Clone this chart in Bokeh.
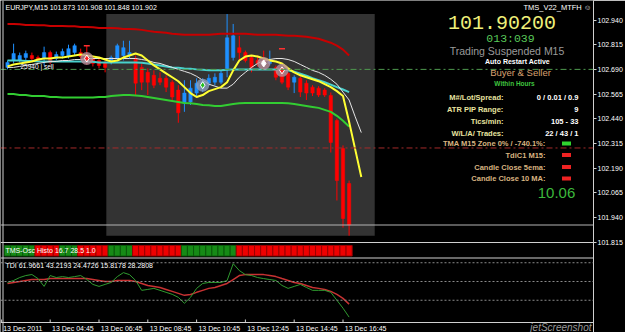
from bokeh.plotting import figure
from bokeh.models import Range1d, FixedTicker, Span, Label, PrintfTickFormatter
from bokeh.embed import file_html
from bokeh.resources import INLINE

# ---------------- data ----------------
header_text = "EURJPY,M15  101.873 101.908 101.848 101.902"

opens = [102.700, 102.735, 102.735, 102.750, 102.760, 102.750, 102.745, 102.775, 102.745, 102.760,
         102.755, 102.775, 102.775, 102.760, 102.745, 102.735, 102.725, 102.725, 102.745, 102.760,
         102.760, 102.745, 102.700, 102.675, 102.660, 102.645, 102.645, 102.625, 102.585, 102.520,
         102.525, 102.570, 102.595, 102.620, 102.625, 102.625, 102.695, 102.750, 102.800, 102.775,
         102.750, 102.735, 102.735, 102.720, 102.700, 102.675, 102.670, 102.625, 102.645, 102.620,
         102.600, 102.595, 102.585, 102.558, 102.431, 102.289, 102.112]
highs = [102.735, 102.820, 102.775, 102.785, 102.775, 102.760, 102.805, 102.785, 102.780, 102.795,
         102.815, 102.820, 102.795, 102.810, 102.755, 102.745, 102.735, 102.760, 102.820, 102.835,
         102.835, 102.760, 102.725, 102.695, 102.685, 102.675, 102.660, 102.635, 102.610, 102.635,
         102.635, 102.645, 102.645, 102.665, 102.670, 102.685, 102.970, 102.920, 102.860, 102.785,
         102.760, 102.760, 102.785, 102.785, 102.710, 102.685, 102.675, 102.660, 102.655, 102.635,
         102.610, 102.605, 102.595, 102.573, 102.441, 102.305, 102.127]
lows = [102.690, 102.720, 102.725, 102.735, 102.735, 102.725, 102.710, 102.715, 102.735, 102.745,
        102.745, 102.760, 102.745, 102.715, 102.705, 102.695, 102.675, 102.715, 102.735, 102.735,
        102.745, 102.560, 102.585, 102.560, 102.595, 102.610, 102.575, 102.535, 102.420, 102.475,
        102.510, 102.555, 102.575, 102.605, 102.610, 102.615, 102.650, 102.735, 102.735, 102.725,
        102.675, 102.705, 102.720, 102.710, 102.635, 102.615, 102.585, 102.570, 102.550, 102.535,
        102.555, 102.550, 102.550, 102.269, 102.026, 101.889, 101.848]
closes = [102.725, 102.770, 102.760, 102.770, 102.745, 102.735, 102.775, 102.725, 102.765, 102.780,
          102.795, 102.810, 102.755, 102.725, 102.720, 102.710, 102.700, 102.750, 102.810, 102.800,
          102.775, 102.620, 102.625, 102.625, 102.610, 102.625, 102.600, 102.550, 102.470, 102.570,
          102.595, 102.620, 102.625, 102.645, 102.650, 102.670, 102.850, 102.860, 102.775, 102.735,
          102.700, 102.720, 102.725, 102.735, 102.650, 102.625, 102.600, 102.650, 102.575, 102.570,
          102.570, 102.560, 102.560, 102.320, 102.127, 101.935, 101.902]

upper_band = [102.920, 102.920, 102.918, 102.915, 102.915, 102.913, 102.913, 102.910, 102.910, 102.910,
              102.908, 102.908, 102.905, 102.905, 102.903, 102.900, 102.900, 102.900, 102.898, 102.895,
              102.895, 102.893, 102.890, 102.885, 102.880, 102.878, 102.875, 102.870, 102.868, 102.865,
              102.865, 102.865, 102.865, 102.865, 102.868, 102.870, 102.870, 102.870, 102.870, 102.870,
              102.868, 102.865, 102.865, 102.865, 102.865, 102.863, 102.860, 102.860, 102.858, 102.855,
              102.850, 102.845, 102.835, 102.825, 102.810, 102.790, 102.760]
lower_band = [102.565, 102.565, 102.560, 102.560, 102.555, 102.555, 102.555, 102.550, 102.550, 102.548,
              102.548, 102.548, 102.548, 102.548, 102.548, 102.550, 102.550, 102.555, 102.558, 102.560,
              102.560, 102.558, 102.555, 102.550, 102.545, 102.540, 102.535, 102.530, 102.525, 102.520,
              102.518, 102.515, 102.510, 102.508, 102.505, 102.505, 102.510, 102.515, 102.518, 102.520,
              102.520, 102.520, 102.520, 102.520, 102.520, 102.520, 102.518, 102.515, 102.510, 102.505,
              102.500, 102.495, 102.485, 102.475, 102.455, 102.430, 102.400]
mid_line = [102.735, 102.735, 102.735, 102.733, 102.733, 102.730, 102.730, 102.730, 102.730, 102.730,
            102.730, 102.730, 102.730, 102.728, 102.728, 102.725, 102.725, 102.725, 102.725, 102.725,
            102.725, 102.725, 102.723, 102.720, 102.715, 102.710, 102.705, 102.700, 102.698, 102.695,
            102.693, 102.690, 102.688, 102.685, 102.685, 102.685, 102.688, 102.690, 102.690, 102.690,
            102.690, 102.690, 102.690, 102.690, 102.690, 102.690, 102.685, 102.678, 102.668, 102.658,
            102.645, 102.635, 102.625, 102.613, 102.600, 102.588, 102.575]
fast_ma = [102.705, 102.715, 102.720, 102.725, 102.730, 102.740, 102.745, 102.745, 102.750, 102.750,
           102.755, 102.760, 102.765, 102.760, 102.755, 102.750, 102.740, 102.730, 102.735, 102.750,
           102.760, 102.770, 102.760, 102.735, 102.710, 102.690, 102.670, 102.650, 102.630, 102.600,
           102.570, 102.550, 102.560, 102.580, 102.590, 102.600, 102.625, 102.685, 102.735, 102.755,
           102.760, 102.755, 102.745, 102.735, 102.730, 102.720, 102.695, 102.675, 102.660, 102.650,
           102.640, 102.630, 102.615, 102.600, 102.580, 102.555, 102.425, 102.285, 102.145]
slow_ma = [102.700, 102.700, 102.705, 102.710, 102.715, 102.720, 102.725, 102.730, 102.730, 102.735,
           102.735, 102.740, 102.740, 102.745, 102.745, 102.745, 102.745, 102.745, 102.745, 102.745,
           102.745, 102.745, 102.740, 102.735, 102.725, 102.720, 102.710, 102.700, 102.690, 102.680,
           102.670, 102.655, 102.635, 102.615, 102.605, 102.595, 102.595, 102.615, 102.650, 102.675,
           102.700, 102.720, 102.735, 102.740, 102.745, 102.745, 102.740, 102.730, 102.715, 102.700,
           102.685, 102.675, 102.660, 102.640, 102.615, 102.575, 102.535, 102.450, 102.370]

trade_bars = [13, 32, 42, 45]
trade_prices = [102.745, 102.610, 102.720, 102.685]
trade_halo = ["#b98f9a", "#8ea0bd", "#b98f9a", "#b98f9a"]
trade_icon = ["#ff2020", "#22c022", "#ffffff", "#ff2020"]
dash_bars = [13, 45]
dash_prices = [102.810, 102.795]

# 1 = rising (green), 0 = falling (red)
osc_state = [1, 1, 1, 1, 1, 0, 0, 0, 0, 1, 1, 1, 0, 0, 0, 0, 0, 1, 1, 1,
             1, 0, 0, 0, 0, 0, 0, 0, 0, 1, 1, 1, 1, 1, 1, 1, 1, 1, 0, 0,
             0, 0, 0, 0, 0, 0, 0, 0, 0, 0, 0, 0, 0, 0, 0, 0, 0]

tdi_price = [49.1, 51.0, 53.8, 55.7, 56.7, 52.8, 45.3, 55.7, 53.8, 54.7,
             53.8, 54.7, 55.7, 51.9, 47.2, 45.3, 47.2, 49.1, 54.7, 58.5,
             56.6, 51.0, 41.5, 42.4, 43.4, 41.5, 39.6, 37.7, 34.8, 29.1,
             34.8, 43.4, 48.1, 49.1, 49.1, 49.1, 51.0, 67.1, 60.5, 56.6,
             55.7, 53.8, 52.8, 51.9, 51.0, 46.2, 43.4, 45.3, 47.2, 44.3,
             41.5, 41.5, 41.5, 39.6, 32.0, 24.4, 15.818]
tdi_signal = [48.1, 49.1, 50.0, 51.0, 51.9, 51.9, 51.9, 52.8, 52.8, 52.8,
              52.8, 52.8, 52.8, 52.8, 51.9, 51.0, 50.0, 50.0, 51.0, 51.0,
              51.0, 50.0, 48.1, 46.2, 45.3, 44.3, 42.4, 40.5, 38.6, 36.7,
              37.6, 39.6, 41.5, 43.4, 44.3, 46.2, 48.1, 51.9, 55.7, 56.6,
              56.6, 56.6, 56.6, 55.7, 54.7, 52.8, 51.0, 49.1, 48.1, 46.2,
              44.3, 43.4, 42.4, 40.5, 37.6, 33.8, 28.281]
tdi_levels = [68, 50, 32]

time_ticks = [-1, 7, 15, 23, 31, 39, 47, 55]
time_labels = ["13 Dec 2011", "13 Dec 04:45", "13 Dec 06:45", "13 Dec 08:45",
               "13 Dec 10:45", "13 Dec 12:45", "13 Dec 14:45", "13 Dec 16:45"]
price_ticks = [102.940, 102.815, 102.690, 102.565, 102.440, 102.315, 102.190, 102.065, 101.940, 101.815]

session_open_bar = 16
session_close_bar = 60
level_green = 102.690
level_red = 102.292
bid = 101.902

info_labels = ["M#/Lot/Spread:", "ATR PIP Range:", "Tics/min:", "W/L/A/ Trades:"]
info_values = ["0 / 0.01 / 0.9", "9", "105 - 33", "22 / 43 / 1"]
signal_labels = ["TMA M15 Zone 0% / -740.1%:", "TdiC1 M15:", "Candle Close 5ema:", "Candle Close 10 MA:"]
signal_colors = ["#2fd42f", "#ee2222", "#ee2222", "#ee2222"]

# ---------------- layout helpers (pixel -> data) ----------------
FRAME_W, FRAME_H = 593, 332
def px_x(px):
    return (px - 7.0) / 6.1
def px_y(py):
    return 102.940 - (py - 19.5) / 197.5
def px_osc(py):
    return (255.5 - py) / 10.5
def px_tdi(py):
    return 50 + (281.0 - py) / 1.042

FONT = "Liberation Sans"

p = figure(width=625, height=332, output_backend="svg", toolbar_location=None,
           x_range=Range1d(px_x(0), px_x(FRAME_W)),
           y_range=Range1d(px_y(FRAME_H), px_y(0)),
           y_axis_location="right", x_axis_location=None,
           background_fill_color="black", border_fill_color="black",
           outline_line_color=None,
           min_border_left=0, min_border_top=0, min_border_right=32, min_border_bottom=0)
p.extra_y_ranges = {"osc": Range1d(px_osc(FRAME_H), px_osc(0)),
                    "tdi": Range1d(px_tdi(FRAME_H), px_tdi(0))}
p.xgrid.grid_line_color = None
p.ygrid.grid_line_color = None

# session box
box_top = max(highs[session_open_bar:])
box_bottom = min(lows[session_open_bar:])
p.quad(left=[session_open_bar + 0.2], right=[session_close_bar + 0.2],
       bottom=[box_bottom], top=[box_top], fill_color="#333333", line_color=None)

# candles
xs = list(range(len(opens)))
ccol = ["#1e90ff" if c >= o else "#ff0000" for o, c in zip(opens, closes)]
p.segment(x0=xs, y0=lows, x1=xs, y1=highs, line_color=ccol, line_width=1)
p.vbar(x=xs, width=0.55,
       bottom=[min(o, c) for o, c in zip(opens, closes)],
       top=[max(o, c) for o, c in zip(opens, closes)],
       fill_color=ccol, line_color=ccol, line_width=0.5)

# bands and averages
p.line(xs, upper_band, line_color="#c80000", line_width=2)
p.line(xs, lower_band, line_color="#32cd32", line_width=2)
p.line(xs, mid_line, line_color="#48d1cc", line_width=2)
ma_x = list(range(len(fast_ma)))
p.line(ma_x, slow_ma, line_color="#e6e6e6", line_width=1)
p.line(ma_x, fast_ma, line_color="#ffff33", line_width=2)

# trade marks
p.scatter(trade_bars, trade_prices, marker="circle", size=13, fill_color=trade_halo,
          fill_alpha=0.8, line_color=None)
p.scatter(trade_bars, trade_prices, marker="diamond", size=7, fill_color=trade_icon,
          line_color="white", line_width=1)
p.scatter(dash_bars, dash_prices, marker="dash", size=6, line_color="#ff3030", line_width=1.5)

# oscillator histogram (full-height state bars)
hcol = ["#168a16" if v else "#ee0000" for v in osc_state]
hline = ["#0b5a0b" if v else "#9a0000" for v in osc_state]
p.vbar(x=xs, width=1, bottom=0, top=1, y_range_name="osc",
       fill_color=hcol, line_color=hline, line_width=1)

# TDI
for lvl in tdi_levels:
    p.add_layout(Span(location=lvl, dimension="width", y_range_name="tdi",
                      line_color="#8a8a8a", line_dash="2 2", line_width=1))
p.line(xs, tdi_signal, y_range_name="tdi", line_color="#c83232", line_width=1.5)
p.line(xs, tdi_price, y_range_name="tdi", line_color="#2f9a2f", line_width=1)

# level lines / separators
p.add_layout(Span(location=level_green, dimension="width", line_color="#4f9a4f",
                  line_dash="6 3 2 3", line_width=1))
p.add_layout(Span(location=level_red, dimension="width", line_color="#a52a2a",
                  line_dash="6 3 2 3", line_width=1))
p.add_layout(Span(location=bid, dimension="width", line_color="#b4b4b4", line_width=1))
for sep in (242, 257.5, 322):
    p.add_layout(Span(location=px_y(sep), dimension="width", line_color="#d0d0d0", line_width=1))
p.add_layout(Span(location=px_x(2.5), dimension="height", line_color="#d0d0d0", line_width=1))

# price axis
yax = p.yaxis[0]
yax.ticker = FixedTicker(ticks=price_ticks)
yax.formatter = PrintfTickFormatter(format="%.3f")
yax.minor_tick_line_color = None
yax.major_tick_in = 0
yax.major_tick_out = 3
yax.major_tick_line_color = "#d0d0d0"
yax.axis_line_color = "#d0d0d0"
yax.major_label_text_color = "white"
yax.major_label_text_font = FONT
yax.major_label_text_font_size = "7px"
yax.major_label_standoff = 1


def add_text(text, px, py, size, color, align="left", style="normal", font=FONT, **kw):
    p.add_layout(Label(x=px_x(px), y=px_y(py), text=text, text_font=font,
                       text_font_size=f"{size}px", text_color=color, text_align=align,
                       text_baseline="middle", text_font_style=style, **kw))

# time scale: tick marks and MT4-style left-aligned labels
p.segment(x0=time_ticks, y0=[px_y(322)] * len(time_ticks), x1=time_ticks,
          y1=[px_y(319)] * len(time_ticks), line_color="#d0d0d0", line_width=1)
for t, lab in zip(time_ticks, time_labels):
    p.add_layout(Label(x=t + 0.3, y=px_y(327.5), text=lab, text_font=FONT, text_font_size="7px",
                       text_color="white", text_align="left", text_baseline="middle"))

add_text(header_text, 5, 7, 7, "white")
add_text("25940 | sell", 20, 66, 6.5, "white")
add_text("TMS_V22_MTFH \u263a", 591, 7, 7.5, "white", align="right")
add_text("101.90200", 501.5, 22, 20, "#f0f07a", align="center", font="Liberation Mono")
add_text("013:039", 510, 37.5, 11.5, "#59c959", align="center", font="Liberation Mono")
add_text("Trading Suspended M15", 506.5, 50, 10.5, "#9a9a9a", align="center")
add_text("Auto Restart Active", 517, 60.5, 7, "white", align="center", style="bold")
add_text("Buyer & Seller", 520, 72, 9.5, "#d9a070", align="center")
add_text("Within Hours", 514, 82.5, 6.5, "#3fc43f", align="center", style="bold")
for k, (lab, val) in enumerate(zip(info_labels, info_values)):
    yy = 97 + 12 * k
    add_text(lab, 503, yy, 7.5, "#e8e4a0", align="right", style="bold")
    add_text(val, 578, yy, 7.5, "white", align="right", style="bold")
sig_y = [143, 154.5, 166.5, 178]
for lab, col, yy in zip(signal_labels, signal_colors, sig_y):
    add_text(lab, 545, yy, 7.5, "#d8b480", align="right", style="bold")
p.rect(x=[px_x(566)] * 4, y=[px_y(v) for v in sig_y], width=9, height=4,
       width_units="screen", height_units="screen", fill_color=signal_colors, line_color=None)
add_text("10.06", 556, 192, 15, "#3cb83c", align="center")

# current price tag on the axis
p.add_layout(Label(x=px_x(595), y=bid, text="101.902", text_font=FONT, text_font_size="7px",
                   text_color="black", text_baseline="middle", background_fill_color="white"))

# sub-window titles and scales
add_text("TMS-Osc Histo 16.7 28.5 1.0", 5, 250, 7, "white")
add_text("TDI 61.9661 43.2193 24.4726 15.8178 28.2808", 5, 265, 7, "white")
add_text("1", 597, 246.5, 6, "white")
add_text("0", 597, 251.5, 6, "white")
add_text("68", 597, 261, 7, "white")
add_text("70.6227", 597, 263, 7, "white")
add_text("50", 597, 281, 7, "white")
add_text("32", 597, 300, 7, "white")
add_text("13.208", 597, 316.5, 7, "white")
add_text("jetScreenshot", 591, 326.5, 10, "#9a9a9a", align="right", style="italic")

open("out.html", "w").write(file_html(p, INLINE))
